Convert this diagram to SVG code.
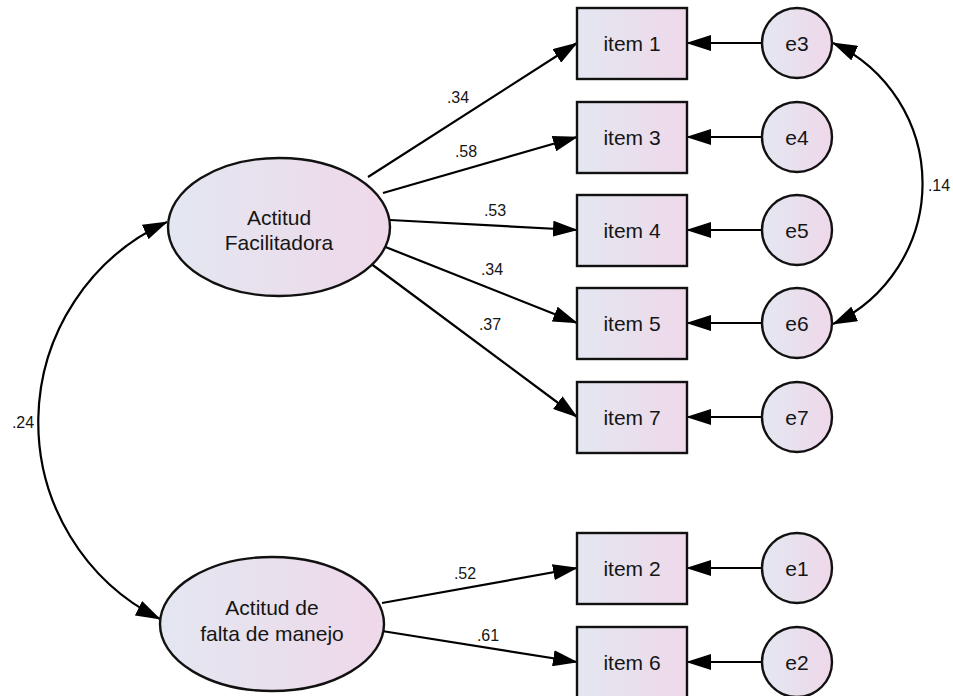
<svg xmlns="http://www.w3.org/2000/svg" width="953" height="696" viewBox="0 0 953 696">
  <defs>
    <linearGradient id="nodeFill" x1="0" y1="0" x2="1" y2="0">
      <stop offset="0" stop-color="#e3e7f1"/>
      <stop offset="1" stop-color="#efd8e9"/>
    </linearGradient>
    <marker id="arrow" viewBox="0 0 25 16" refX="24" refY="8" markerWidth="25" markerHeight="16" markerUnits="userSpaceOnUse" orient="auto-start-reverse">
      <path d="M0,0 L25,8 L0,16 Z" fill="#000"/>
    </marker>
    <style>
      .edge { fill: none; stroke: #000; stroke-width: 2.2; }
      .path { marker-end: url(#arrow); }
      .cov { marker-start: url(#arrow); marker-end: url(#arrow); }
      .shape { fill: url(#nodeFill); stroke: #111; stroke-width: 2.4; }
      .lbl { font-family: "Liberation Sans", Arial, sans-serif; font-size: 21px; fill: #151515; text-anchor: middle; }
      .coef { font-family: "Liberation Sans", Arial, sans-serif; font-size: 16px; fill: #151515; text-anchor: middle; }
    </style>
  </defs>
  <rect width="953" height="696" fill="#fff"/>

  <!-- connectors: loadings, error terms, covariances -->
  <g id="connectors">
    <line class="edge path" x1="368" y1="177" x2="577" y2="43"/>
    <line class="edge path" x1="383" y1="193" x2="577" y2="137"/>
    <line class="edge path" x1="390" y1="220" x2="577" y2="230"/>
    <line class="edge path" x1="383" y1="246" x2="577" y2="323"/>
    <line class="edge path" x1="370" y1="263" x2="577" y2="417"/>
    <line class="edge path" x1="382" y1="603" x2="577" y2="568"/>
    <line class="edge path" x1="382" y1="631" x2="577" y2="662"/>

    <line class="edge path" x1="762" y1="43" x2="687" y2="43"/>
    <line class="edge path" x1="762" y1="137" x2="687" y2="137"/>
    <line class="edge path" x1="762" y1="230" x2="687" y2="230"/>
    <line class="edge path" x1="762" y1="323" x2="687" y2="323"/>
    <line class="edge path" x1="762" y1="417" x2="687" y2="417"/>
    <line class="edge path" x1="762" y1="568" x2="687" y2="568"/>
    <line class="edge path" x1="762" y1="662" x2="687" y2="662"/>

    <path class="edge cov" d="M833,43 A155,155 0 0 1 833,324"/>
    <path class="edge cov" d="M167,222 A220,220 0 0 0 160,619"/>

    <text class="coef" x="458" y="103">.34</text>
    <text class="coef" x="466" y="157">.58</text>
    <text class="coef" x="495" y="216">.53</text>
    <text class="coef" x="492" y="275">.34</text>
    <text class="coef" x="490" y="330">.37</text>
    <text class="coef" x="465" y="579">.52</text>
    <text class="coef" x="488" y="641">.61</text>
    <text class="coef" x="939" y="191">.14</text>
    <text class="coef" x="23" y="428">.24</text>
  </g>

  <!-- latent factors -->
  <g id="factor-facilitadora">
    <ellipse class="shape" cx="279" cy="227" rx="111" ry="69"/>
    <text class="lbl" x="279" y="225">Actitud</text>
    <text class="lbl" x="279" y="250">Facilitadora</text>
  </g>
  <g id="factor-falta-manejo">
    <ellipse class="shape" cx="272" cy="624" rx="112" ry="67"/>
    <text class="lbl" x="272" y="615">Actitud de</text>
    <text class="lbl" x="272" y="641">falta de manejo</text>
  </g>

  <!-- observed items -->
  <g id="item1"><rect class="shape" x="577" y="8" width="110" height="71"/><text class="lbl" x="632" y="51">item 1</text></g>
  <g id="item3"><rect class="shape" x="577" y="102" width="110" height="71"/><text class="lbl" x="632" y="145">item 3</text></g>
  <g id="item4"><rect class="shape" x="577" y="195" width="110" height="71"/><text class="lbl" x="632" y="238">item 4</text></g>
  <g id="item5"><rect class="shape" x="577" y="288" width="110" height="71"/><text class="lbl" x="632" y="331">item 5</text></g>
  <g id="item7"><rect class="shape" x="577" y="382" width="110" height="71"/><text class="lbl" x="632" y="425">item 7</text></g>
  <g id="item2"><rect class="shape" x="577" y="533" width="110" height="71"/><text class="lbl" x="632" y="576">item 2</text></g>
  <g id="item6"><rect class="shape" x="577" y="627" width="110" height="71"/><text class="lbl" x="632" y="670">item 6</text></g>

  <!-- error terms -->
  <g id="e3"><circle class="shape" cx="797" cy="43" r="35"/><text class="lbl" x="797" y="51">e3</text></g>
  <g id="e4"><circle class="shape" cx="797" cy="137" r="35"/><text class="lbl" x="797" y="145">e4</text></g>
  <g id="e5"><circle class="shape" cx="797" cy="230" r="35"/><text class="lbl" x="797" y="238">e5</text></g>
  <g id="e6"><circle class="shape" cx="797" cy="323" r="35"/><text class="lbl" x="797" y="331">e6</text></g>
  <g id="e7"><circle class="shape" cx="797" cy="417" r="35"/><text class="lbl" x="797" y="425">e7</text></g>
  <g id="e1"><circle class="shape" cx="797" cy="568" r="35"/><text class="lbl" x="797" y="576">e1</text></g>
  <g id="e2"><circle class="shape" cx="797" cy="662" r="35"/><text class="lbl" x="797" y="670">e2</text></g>
</svg>
